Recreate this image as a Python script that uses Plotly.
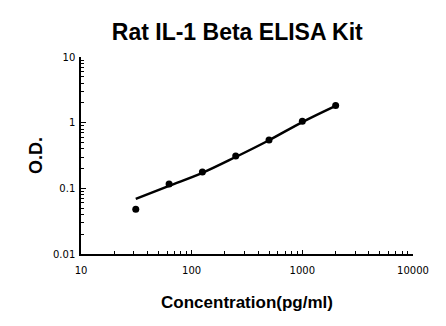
import plotly.graph_objects as go

conc = [31.25, 62.5, 125, 250, 500, 1000, 2000]
od = [0.048, 0.116, 0.177, 0.31, 0.544, 1.047, 1.83]
fit_x = [31.25, 62.5, 125, 250, 500, 1000, 2000]
fit_y = [0.069, 0.109, 0.172, 0.30, 0.54, 1.02, 1.80]

x_ticks = [10, 100, 1000, 10000]
x_labels = ["10", "100", "1000", "10000"]
y_ticks = [0.01, 0.1, 1, 10]
y_labels = ["0.01", "0.1", "1", "10"]

fig = go.Figure()
fig.add_trace(go.Scatter(x=fit_x, y=fit_y, mode="lines", line=dict(color="black", width=2.5, shape="spline"),
                         showlegend=False, hoverinfo="skip"))
fig.add_trace(go.Scatter(x=conc, y=od, mode="markers", marker=dict(color="black", size=7), showlegend=False))

font_ticks = dict(family="DejaVu Sans", size=10, color="black")
fig.update_layout(
    width=446, height=326,
    margin=dict(l=81, r=33, t=57, b=72),
    paper_bgcolor="white", plot_bgcolor="white",
    title=dict(text="<b>Rat IL-1 Beta ELISA Kit</b>", x=0.532, xanchor="center", y=0.902, yanchor="middle",
               font=dict(family="Liberation Sans, Arial", size=23, color="black")),
    xaxis=dict(type="log", range=[1, 4], tickvals=x_ticks, ticktext=x_labels, ticks="inside", ticklen=4,
               tickcolor="black", showline=True, linecolor="black", linewidth=1.5, showgrid=False, zeroline=False,
               tickfont=font_ticks, mirror=False, ticklabelstandoff=6,
               minor=dict(ticks="inside", ticklen=3, tickcolor="black", tickvals=[v * m for v in [10, 100, 1000] for m in range(2, 10)]),
               title=dict(text="<b>Concentration(pg/ml)</b>", font=dict(family="Liberation Sans, Arial", size=17, color="black"), standoff=21)),
    yaxis=dict(type="log", range=[-2, 1], tickvals=y_ticks, ticktext=y_labels, ticks="inside", ticklen=5,
               tickcolor="black", showline=True, linecolor="black", linewidth=1.5, showgrid=False, zeroline=False,
               tickfont=font_ticks, ticklabelstandoff=2,
               minor=dict(ticks="inside", ticklen=3, tickcolor="black", tickvals=[v * m for v in [0.01, 0.1, 1] for m in range(2, 10)]),
               title=dict(text="<b>O.D.</b>", font=dict(family="Liberation Sans, Arial", size=18, color="black"), standoff=6)),
)
fig.write_html("out.html")
